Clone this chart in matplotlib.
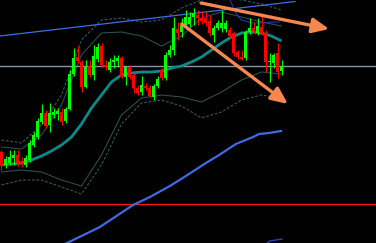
import matplotlib
matplotlib.use("Agg")
import matplotlib.pyplot as plt
import numpy as np

# --- candle data (price units, bar index = position) ---
opens = [91, 78, 80, 85, 88, 82, 78, 83, 98, 106, 121, 130, 118, 128, 129, 131, 122, 134,
         169, 186, 181, 156, 177, 168, 184, 197, 178, 173, 181, 182, 185, 166, 176, 168,
         155, 151, 157, 155, 146, 157, 173, 165, 188, 193, 214, 211, 218, 219, 226, 228,
         225, 225, 222, 208, 215, 215, 214, 213, 210, 191, 186, 185, 211, 215, 210, 216,
         210, 181, 180, 190, 172]
highs = [93, 87, 93, 93, 93, 86, 88, 103, 111, 125, 139, 133, 140, 135, 135, 135, 136, 173,
         195, 197, 183, 183, 183, 198, 200, 200, 183, 185, 188, 188, 187, 177, 178, 170,
         158, 167, 160, 158, 159, 167, 175, 191, 198, 226, 221, 225, 233, 231, 235, 233,
         232, 231, 228, 218, 223, 233, 223, 216, 212, 193, 193, 213, 225, 221, 225, 230,
         213, 190, 190, 200, 183]
lows = [73, 75, 78, 78, 77, 76, 76, 81, 96, 104, 119, 115, 111, 125, 123, 118, 120, 133,
        167, 180, 151, 155, 166, 163, 181, 176, 173, 171, 175, 176, 165, 158, 164, 150,
        148, 148, 153, 146, 143, 155, 163, 163, 186, 188, 203, 206, 215, 216, 218, 218,
        219, 217, 207, 201, 213, 211, 211, 205, 187, 184, 183, 183, 209, 210, 208, 208,
        171, 161, 175, 165, 168]
closes = [77, 84, 86, 88, 80, 80, 85, 100, 108, 122, 130, 117, 130, 131, 132, 121, 134, 169,
          185, 182, 156, 176, 168, 187, 196, 178, 176, 181, 183, 185, 166, 176, 166, 155,
          150, 158, 155, 147, 157, 164, 165, 188, 193, 215, 210, 218, 226, 226, 230, 225,
          222, 220, 210, 215, 220, 220, 220, 207, 190, 186, 184, 211, 215, 212, 217, 210,
          181, 182, 188, 171, 177]

# --- middle moving average, read every 2.5 bars ---
mid_bars = [0, 2.5, 5, 7.5, 10, 12.5, 15, 17.5, 20, 22.5, 25, 27.5, 30, 32.5, 35,
            37.5, 40, 42.5, 45, 47.5, 50, 52.5, 55, 57.5, 60, 62.5, 65, 67.5, 70]
ma_mid = [78, 79, 80, 83, 87, 92, 98, 106, 119, 135, 148, 161, 168, 170, 171,
          171, 172, 175, 177, 181, 186, 193, 200, 206, 210, 211, 210, 207, 202]

# --- envelope bands, read every 5 bars ---
band_bars = [0, 5, 10, 15, 20, 25, 30, 35, 40, 45, 50, 55, 60, 65, 70]
upper_outer = [103, 100, 118, 148, 203, 223, 225, 221, 223, 235, 243, 246, 243, 239, 233]
upper_inner = [96, 94, 108, 138, 188, 210, 211, 207, 197, 207, 225, 231, 226, 221, 217]
lower_inner = [71, 73, 71, 63, 57, 88, 128, 145, 148, 146, 141, 151, 163, 171, 169]
lower_outer = [58, 63, 63, 56, 49, 78, 119, 140, 143, 137, 125, 131, 143, 148, 145]

# slow moving average (blue)
slow_bars = [14.6, 16.4, 24.6, 32.9, 37.1, 42.1, 46.1, 51.1, 54.4, 58.6, 62.9, 64.4, 66.9, 69.9]
slow_ma = [-3, 0, 16, 38, 46, 57, 67, 80, 88, 99, 106, 109, 110, 112]
# second slow line entering at the bottom
slow2_bars = [65.9, 67.1, 68.6, 70.1]
slow2_ma = [-2, 2, 3, 4]
# dark blue envelope piece at the top
env_bars = [56.9, 58.6, 59.9, 62.9, 69.4]
env_vals = [245, 230, 223, 220, 221]

# trend line, levels, arrows
trend_bars = [-0.375, 73.4]
trend_vals = [207, 241.5]
level_grey = 177
level_red = 39
arrow_up_start, arrow_up_tip = (49.9, 240), (81.9, 214)
arrow_dn_start, arrow_dn_tip = (45.1, 219), (71.6, 139)

fig = plt.figure(figsize=(3.76, 2.43), dpi=100, facecolor="black")
ax = fig.add_axes([0, 0, 1, 1])
ax.set_facecolor("black")
ax.set_xlim(-0.375, 93.625)
ax.set_ylim(0, 243)
ax.axis("off")

band_col = "#33595a"
dash = (0, (2.5, 1.5))
ax.plot(band_bars, upper_outer, color=band_col, lw=0.8, ls=dash, zorder=1)
ax.plot(band_bars, upper_inner, color="#2c4d4e", lw=0.8, zorder=1)
ax.plot(band_bars, lower_inner, color="#2c4d4e", lw=0.8, zorder=1)
ax.plot(band_bars, lower_outer, color=band_col, lw=0.8, ls=dash, zorder=1)
ax.plot(mid_bars, ma_mid, color="#0c8a8a", lw=2.0, zorder=2, solid_capstyle="butt")

ax.axhline(level_grey, color="#8796a6", lw=1.0, zorder=1.5)
ax.axhline(level_red, color="#ff1010", lw=1.0, zorder=1.5)

ax.plot(trend_bars, trend_vals, color="#3f6ee8", lw=0.9, zorder=1.5)
ax.plot(slow_bars, slow_ma, color="#4169e1", lw=1.6, zorder=2)
ax.plot(slow2_bars, slow2_ma, color="#2b45b8", lw=1.0, zorder=2)
ax.plot(env_bars, env_vals, color="#2236a8", lw=0.8, zorder=1.5)

# candles
idx = np.arange(len(opens))
o = np.array(opens)
c = np.array(closes)
up = c >= o
cols = np.where(up, "#00ff00", "#ff0000")
ax.vlines(idx, lows, highs, colors=cols, lw=0.9, zorder=3)
ax.bar(idx, np.abs(c - o) + 0.8, bottom=np.minimum(o, c) - 0.4, width=0.7,
       color=cols, edgecolor=cols, linewidth=0, zorder=4)

arrow_style = "-|>,head_length=1.0,head_width=0.45"
for start, tip in [(arrow_up_start, arrow_up_tip), (arrow_dn_start, arrow_dn_tip)]:
    ax.annotate("", xy=tip, xytext=start,
                arrowprops=dict(arrowstyle=arrow_style, color="#f5874f", lw=2.4,
                                shrinkA=0, shrinkB=0),
                zorder=6)

fig.savefig("out.png", dpi=100, facecolor="black")
